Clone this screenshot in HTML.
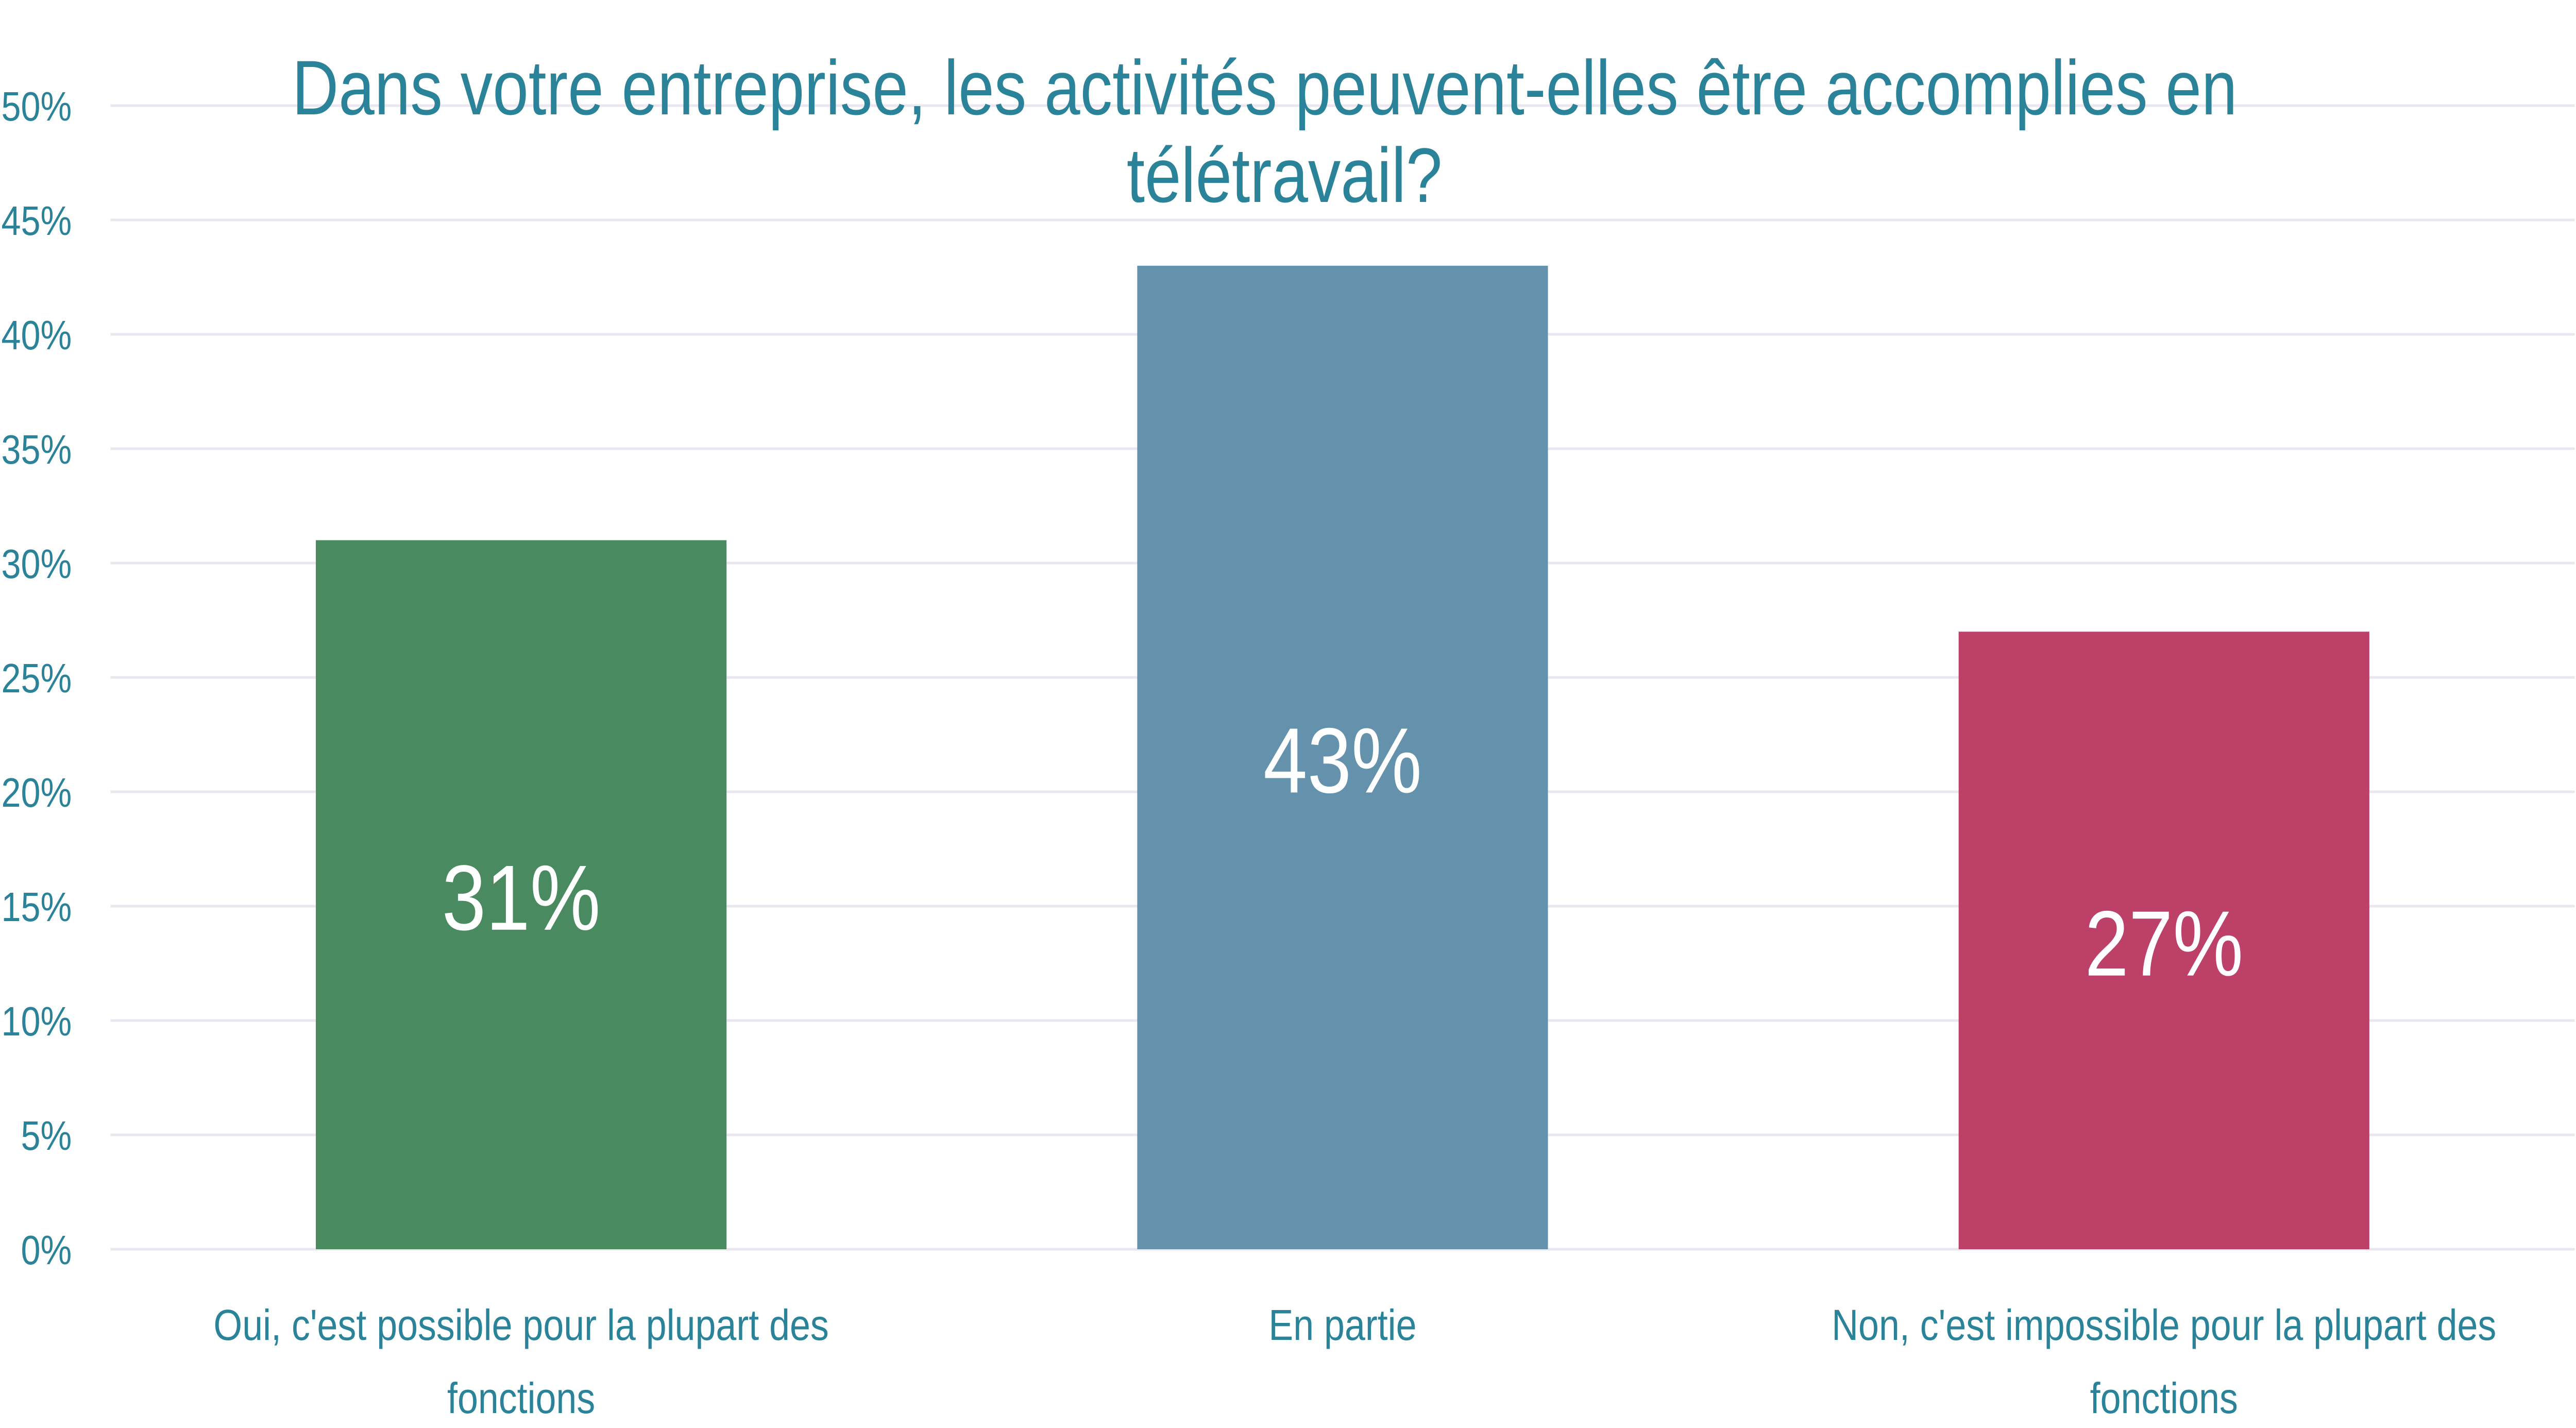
<!DOCTYPE html>
<html><head><meta charset="utf-8"><style>
html,body{margin:0;padding:0;background:#fff;overflow:hidden;width:100%;height:100%;}
svg{display:block;font-family:"Liberation Sans",sans-serif;width:100vw;height:100vh;}
</style></head><body>
<svg id="chart" viewBox="0 0 5852 2772" preserveAspectRatio="none" xmlns="http://www.w3.org/2000/svg">
<rect width="5852" height="2772" fill="#fff"/>
<g id="grid"></g>
<g id="yticks"></g>
<g id="bars"></g>
<g id="xlabels"></g>
<g fill="#2a8399" font-size="150" text-anchor="middle">
<text x="2873" y="222" textLength="4419" lengthAdjust="spacingAndGlyphs">Dans votre entreprise, les activités peuvent-elles être accomplies en</text>
<text x="2918" y="392" textLength="717" lengthAdjust="spacingAndGlyphs">télétravail?</text>
</g>
</svg>
<script>
const categories = [["Oui, c'est possible pour la plupart des","fonctions"],["En partie"],["Non, c'est impossible pour la plupart des","fonctions"]];
const values = [31, 43, 27];
const valueLabels = ["31%", "43%", "27%"];
const tickValues = [0,5,10,15,20,25,30,35,40,45,50];
const colors = ["#4a8a60", "#6492ad", "#bc4067"];

const NS = "http://www.w3.org/2000/svg";
const plotL = 251, plotR = 5849, y0 = 2425, yTop = 205, yMax = 50;
const band = (plotR - plotL) / categories.length;
function yScale(v){ return y0 - (v / yMax) * (y0 - yTop); }
function xCenter(i){ return plotL + band * (i + 0.5); }
function mk(tag, attrs){ const e = document.createElementNS(NS, tag); for (const k in attrs) e.setAttribute(k, attrs[k]); return e; }

const grid = document.getElementById('grid');
const yt = document.getElementById('yticks');
tickValues.forEach(t => {
  const y = yScale(t);
  const l = mk('line', {x1: plotL, x2: plotR, y1: y, y2: y, stroke: '#ebe6ef', 'stroke-width': 5});
  
  
  grid.appendChild(l);
  const tx = mk('text', {x: 163, y: y + 29, 'text-anchor': 'end', 'font-size': 80, fill: '#2a8399'});
  tx.textContent = t + '%';
  
  
  yt.appendChild(tx);
});

const bars = document.getElementById('bars');
const xl = document.getElementById('xlabels');
const barW = band * 0.5;
values.forEach((v, i) => {
  const cx = xCenter(i);
  const r = mk('rect', {x: cx - barW / 2, y: yScale(v), width: barW, height: y0 - yScale(v), fill: colors[i]});
  
  
  bars.appendChild(r);
  const lbl = mk('text', {x: cx, y: (yScale(v) + y0) / 2 + 68, 'text-anchor': 'middle', 'font-size': 180, fill: '#fff'});
  lbl.textContent = valueLabels[i];
  
  
  bars.appendChild(lbl);
  categories[i].forEach((line, j) => {
    const t = mk('text', {x: cx, y: 2601 + j * 142, 'text-anchor': 'middle', 'font-size': 84, fill: '#2a8399'});
    t.textContent = line;
    
    
    xl.appendChild(t);
  });
});
</script>
</body></html>
